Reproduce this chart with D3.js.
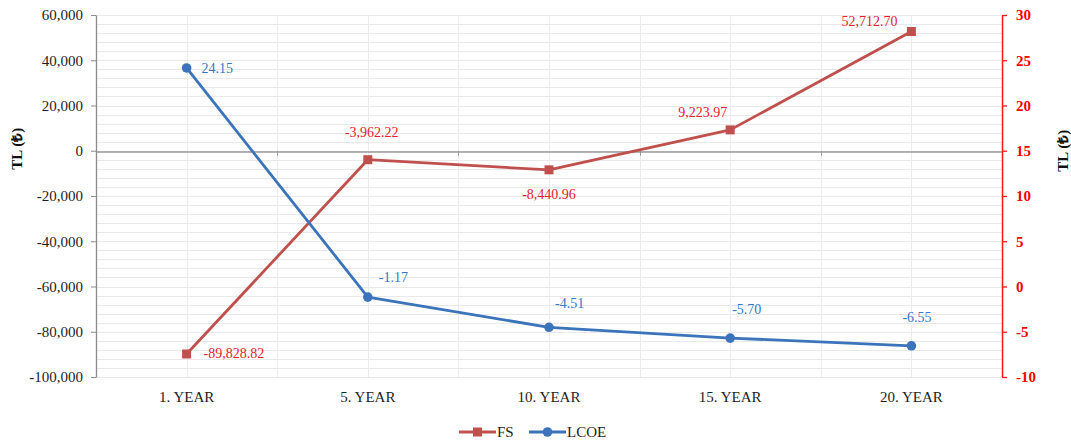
<!DOCTYPE html>
<html>
<head>
<meta charset="utf-8">
<script src="https://cdn.jsdelivr.net/npm/d3@7"></script>
<style>
  html, body { margin: 0; padding: 0; background: #fff; }
  svg { display: block; }
  text { font-family: "Liberation Serif", "Times New Roman", serif; }
</style>
</head>
<body>
<svg id="chart" width="1071" height="442"></svg>
<script>
// Years on the horizontal axis
const categories = ["1. YEAR", "5. YEAR", "10. YEAR", "15. YEAR", "20. YEAR"];
// FS values (left axis, TL)
const fsValues = [-89828.82, -3962.22, -8440.96, 9223.97, 52712.70];
// LCOE values (right axis, TL)
const lcoeValues = [24.15, -1.17, -4.51, -5.70, -6.55];
// Axis ticks
const leftTicks = [-100000, -80000, -60000, -40000, -20000, 0, 20000, 40000, 60000];
const rightTicks = [-10, -5, 0, 5, 10, 15, 20, 25, 30];

// Label offsets from each point: [dx, dy, anchor]
const fsLabelPos = [[17, 0, "start"], [4, -27, "middle"], [0, 25, "middle"], [-3, -17, "end"], [-14, -10, "end"]];
const lcoePosLabel = [[15, 1, "start"], [11, -20, "start"], [6, -24, "start"], [2, -29, "start"], [-9, -28, "start"]];

const W = 1071, H = 442;
const margin = { top: 15, right: 69, bottom: 65, left: 96 };
const iw = W - margin.left - margin.right;
const ih = H - margin.top - margin.bottom;

const FS_LINE = "#c0504d";
const FS_TEXT = "#e4222e";
const LCOE_LINE = "#3b74ba";
const LCOE_TEXT = "#2f78cc";

const loc = d3.formatLocale({ decimal: ".", thousands: ",", grouping: [3], currency: ["", ""], minus: "-" });
const fmtLeft = loc.format(",");
const fmtRight = loc.format("d");
const fmtFs = loc.format(",.2f");
const fmtLcoe = loc.format(".2f");

const svg = d3.select("#chart");
const g = svg.append("g").attr("transform", `translate(${margin.left},${margin.top})`);

const x = d3.scaleBand().domain(categories).range([0, iw]).padding(0);
const yL = d3.scaleLinear().domain([-100000, 60000]).range([ih, 0]);
const yR = d3.scaleLinear().domain([-10, 30]).range([ih, 0]);
const cx = d => x(d) + x.bandwidth() / 2;

// Horizontal gridlines (minor every 4,000)
const minor = d3.range(-100000, 60001, 4000);
g.append("g").selectAll("line").data(minor).join("line")
  .attr("x1", 0).attr("x2", iw)
  .attr("y1", d => Math.round(yL(d)) + 0.5).attr("y2", d => Math.round(yL(d)) + 0.5)
  .attr("stroke", "#e9e9e9").attr("stroke-width", 1);

// Vertical gridlines at band centres and band edges
const vlines = [];
categories.forEach(c => { vlines.push(x(c)); vlines.push(cx(c)); });
vlines.push(iw);
g.append("g").selectAll("line").data(vlines).join("line")
  .attr("x1", d => Math.round(d) + 0.5).attr("x2", d => Math.round(d) + 0.5)
  .attr("y1", 0).attr("y2", ih)
  .attr("stroke", "#ececec").attr("stroke-width", 1);

// Category axis placed at zero
const xAxis = g.append("g")
  .attr("transform", `translate(0,${Math.round(yL(0)) + 0.5})`)
  .call(d3.axisBottom(x).tickSize(0).tickFormat(""));
xAxis.select(".domain").attr("stroke", "#9a9a9a").attr("stroke-width", 1.3);
g.append("g").selectAll("line").data(categories.map(c => x(c)).concat([iw])).join("line")
  .attr("x1", d => Math.round(d) + 0.5).attr("x2", d => Math.round(d) + 0.5)
  .attr("y1", yL(0)).attr("y2", yL(0) + 5)
  .attr("stroke", "#9a9a9a");

// Category labels along the bottom
g.append("g").selectAll("text").data(categories).join("text")
  .attr("x", d => cx(d)).attr("y", ih + 20)
  .attr("text-anchor", "middle").attr("dominant-baseline", "central")
  .attr("font-size", 15).attr("fill", "#1e1e1e")
  .text(d => d);

// Left axis
const la = g.append("g")
  .call(d3.axisLeft(yL).tickValues(leftTicks).tickFormat(fmtLeft).tickSize(5).tickPadding(8).tickSizeOuter(0));
la.select(".domain").attr("stroke", "#8c8c8c").attr("stroke-width", 1.3);
la.selectAll(".tick line").attr("stroke", "#8c8c8c");
la.selectAll(".tick text").attr("font-size", 15).attr("fill", "#1e1e2a")
  .attr("font-family", "'Liberation Serif', serif");

// Right axis
const ra = g.append("g").attr("transform", `translate(${iw},0)`)
  .call(d3.axisRight(yR).tickValues(rightTicks).tickFormat(fmtRight).tickSize(5).tickPadding(9).tickSizeOuter(0));
ra.select(".domain").attr("stroke", "#ff1a1a").attr("stroke-width", 1.5);
ra.selectAll(".tick line").attr("stroke", "#ff1a1a").attr("stroke-width", 1.3);
ra.selectAll(".tick text").attr("font-size", 15).attr("font-weight", "bold").attr("fill", "#ff0000")
  .attr("font-family", "'Liberation Serif', serif");

// Axis titles
svg.append("text")
  .attr("transform", `translate(17,${margin.top + yL(0) - 2}) rotate(-90)`)
  .attr("text-anchor", "middle").attr("dominant-baseline", "central")
  .attr("font-size", 15).attr("font-weight", "bold").attr("fill", "#111")
  .text("TL (₺)");
svg.append("text")
  .attr("transform", `translate(1063,${margin.top + yL(0)}) rotate(-90)`)
  .attr("text-anchor", "middle").attr("dominant-baseline", "central")
  .attr("font-size", 15).attr("font-weight", "bold").attr("fill", "#111")
  .text("TL (₺)");

// FS series
const fsData = categories.map((c, i) => ({ c, v: fsValues[i], p: fsLabelPos[i] }));
g.append("path").datum(fsData)
  .attr("fill", "none").attr("stroke", FS_LINE).attr("stroke-width", 2.8).attr("stroke-linejoin", "round")
  .attr("d", d3.line().x(d => cx(d.c)).y(d => yL(d.v)));
g.append("g").selectAll("rect").data(fsData).join("rect")
  .attr("x", d => cx(d.c) - 4.5).attr("y", d => yL(d.v) - 4.5)
  .attr("width", 9).attr("height", 9).attr("fill", FS_LINE);

// LCOE series
const lcoeData = categories.map((c, i) => ({ c, v: lcoeValues[i], p: lcoePosLabel[i] }));
g.append("path").datum(lcoeData)
  .attr("fill", "none").attr("stroke", LCOE_LINE).attr("stroke-width", 2.8).attr("stroke-linejoin", "round")
  .attr("d", d3.line().x(d => cx(d.c)).y(d => yR(d.v)));
g.append("g").selectAll("circle").data(lcoeData).join("circle")
  .attr("cx", d => cx(d.c)).attr("cy", d => yR(d.v)).attr("r", 4.8).attr("fill", LCOE_LINE);

// Data labels
g.append("g").selectAll("text").data(fsData).join("text")
  .attr("x", d => cx(d.c) + d.p[0]).attr("y", d => yL(d.v) + d.p[1])
  .attr("text-anchor", d => d.p[2]).attr("dominant-baseline", "central")
  .attr("font-size", 14).attr("fill", FS_TEXT)
  .text(d => fmtFs(d.v));
g.append("g").selectAll("text").data(lcoeData).join("text")
  .attr("x", d => cx(d.c) + d.p[0]).attr("y", d => yR(d.v) + d.p[1])
  .attr("text-anchor", d => d.p[2]).attr("dominant-baseline", "central")
  .attr("font-size", 14).attr("fill", LCOE_TEXT)
  .text(d => fmtLcoe(d.v));

// Legend
const legend = svg.append("g").attr("transform", "translate(0,432)");
const items = [
  { name: "FS", color: FS_LINE, shape: "square", x0: 459 },
  { name: "LCOE", color: LCOE_LINE, shape: "circle", x0: 529 }
];
items.forEach(it => {
  const lg = legend.append("g").attr("transform", `translate(${it.x0},0)`);
  lg.append("line").attr("x1", 0).attr("x2", 37).attr("y1", 0).attr("y2", 0)
    .attr("stroke", it.color).attr("stroke-width", 2.8);
  if (it.shape === "square") {
    lg.append("rect").attr("x", 18.5 - 4.5).attr("y", -4.5).attr("width", 9).attr("height", 9).attr("fill", it.color);
  } else {
    lg.append("circle").attr("cx", 18.5).attr("cy", 0).attr("r", 4.8).attr("fill", it.color);
  }
  lg.append("text").attr("x", 38).attr("y", 0).attr("dominant-baseline", "central")
    .attr("font-size", 15).attr("fill", "#1e1e1e").text(it.name);
});
</script>
</body>
</html>
